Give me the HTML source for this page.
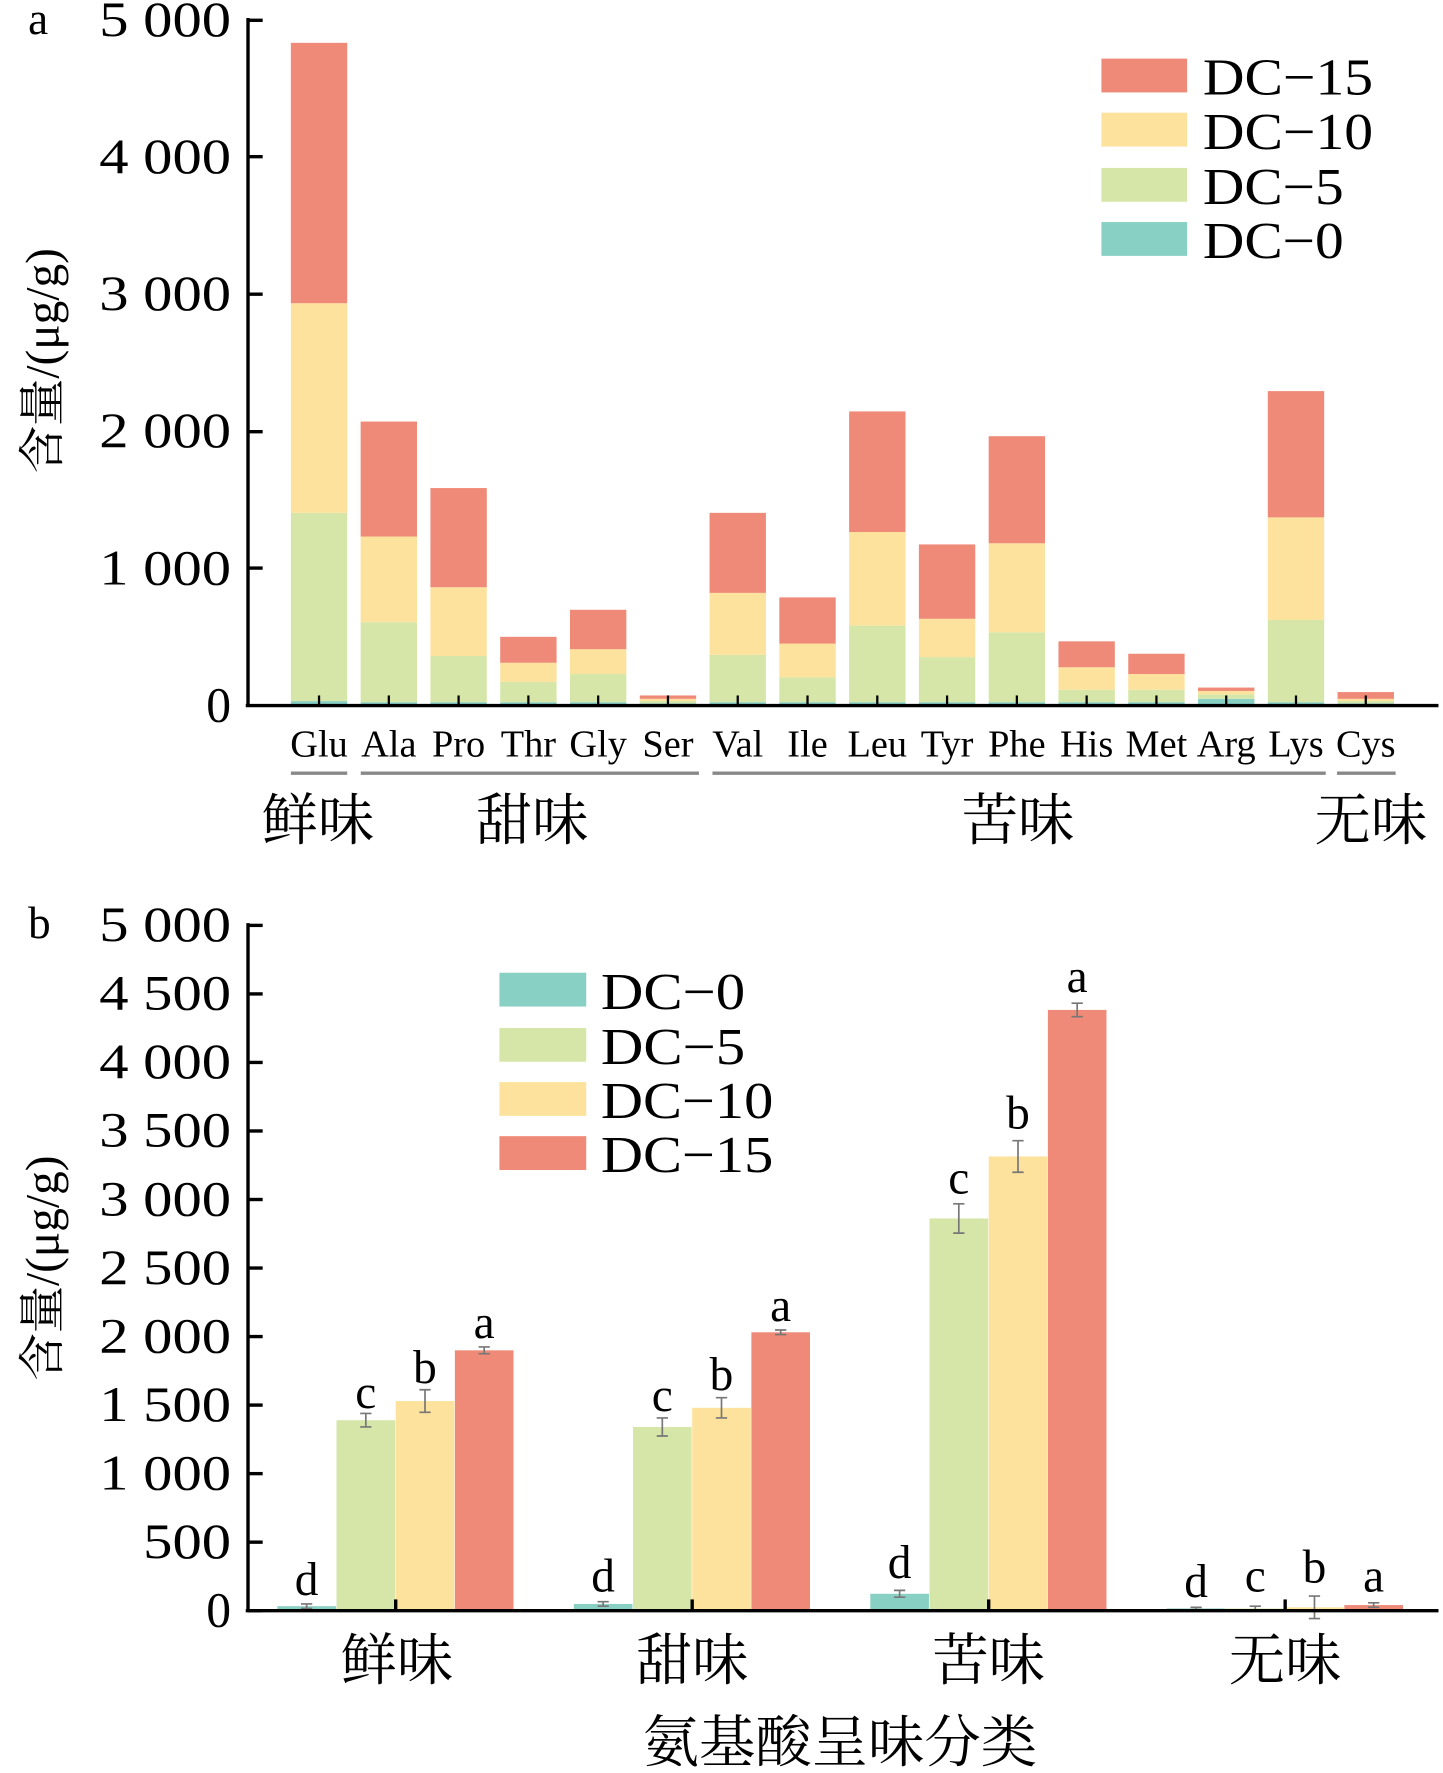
<!DOCTYPE html>
<html><head><meta charset="utf-8"><style>html,body{margin:0;padding:0;background:#fff}svg{display:block}</style></head><body>
<svg width="1443" height="1773" viewBox="0 0 1280 1573" preserveAspectRatio="none" xmlns="http://www.w3.org/2000/svg" font-family="'Liberation Serif','Noto Serif CJK SC',serif">
<rect width="1280" height="1573" fill="#fff"/>
<!-- chart a -->
<text x="25" y="30" font-size="40">a</text>
<g font-size="44" text-anchor="end" id="yt-a"></g>
<text transform="translate(52,320) rotate(-90)" font-size="42" text-anchor="middle">含量/(μg/g)</text>
<g id="bars-a"></g>
<g stroke="#000" stroke-width="3"><line x1="220" y1="16" x2="220" y2="627"/><line x1="218" y1="626" x2="1276" y2="626"/>
<line x1="220" y1="18" x2="233" y2="18"/><line x1="220" y1="139" x2="233" y2="139"/><line x1="220" y1="261" x2="233" y2="261"/><line x1="220" y1="383" x2="233" y2="383"/><line x1="220" y1="504" x2="233" y2="504"/></g>
<g fill="#000" font-size="34" text-anchor="middle" id="lab-a"></g>
<g stroke="#888" stroke-width="3"><line x1="258" y1="686" x2="308" y2="686"/><line x1="320" y1="686" x2="620" y2="686"/><line x1="632" y1="686" x2="1176" y2="686"/><line x1="1186" y1="686" x2="1238" y2="686"/></g>
<g font-size="50" text-anchor="middle"><text x="282" y="745">鲜味</text><text x="472" y="745">甜味</text><text x="903" y="745">苦味</text><text x="1216" y="745">无味</text></g>
<rect x="977" y="52" width="76" height="30" fill="#ef8a78"/><rect x="977" y="100" width="76" height="30" fill="#fce29c"/><rect x="977" y="149" width="76" height="30" fill="#d6e6a8"/><rect x="977" y="197" width="76" height="30" fill="#88d0c4"/>
<g font-size="46"><text x="1067" y="84" textLength="151" lengthAdjust="spacingAndGlyphs">DC−15</text><text x="1067" y="132" textLength="151" lengthAdjust="spacingAndGlyphs">DC−10</text><text x="1067" y="181" textLength="125" lengthAdjust="spacingAndGlyphs">DC−5</text><text x="1067" y="229" textLength="125" lengthAdjust="spacingAndGlyphs">DC−0</text></g>

<!-- chart b -->
<text x="25" y="832" font-size="40">b</text>
<g font-size="44" text-anchor="end" id="yt-b"></g>
<text transform="translate(52,1125) rotate(-90)" font-size="42" text-anchor="middle">含量/(μg/g)</text>
<g id="bars-b"></g>
<g stroke="#000" stroke-width="3"><line x1="220" y1="819" x2="220" y2="1430"/><line x1="218" y1="1429" x2="1276" y2="1429"/></g>
<g stroke="#000" stroke-width="3" id="ticks-b"></g>
<g font-size="50" text-anchor="middle"><text x="352" y="1490">鲜味</text><text x="614" y="1490">甜味</text><text x="877" y="1490">苦味</text><text x="1140" y="1490">无味</text><text x="745" y="1563">氨基酸呈味分类</text></g>
<rect x="443" y="863" width="77" height="30" fill="#88d0c4"/><rect x="443" y="912" width="77" height="30" fill="#d6e6a8"/><rect x="443" y="960" width="77" height="30" fill="#fce29c"/><rect x="443" y="1008" width="77" height="30" fill="#ef8a78"/>
<g font-size="46"><text x="533" y="895" textLength="128" lengthAdjust="spacingAndGlyphs">DC−0</text><text x="533" y="944" textLength="128" lengthAdjust="spacingAndGlyphs">DC−5</text><text x="533" y="992" textLength="153" lengthAdjust="spacingAndGlyphs">DC−10</text><text x="533" y="1040" textLength="153" lengthAdjust="spacingAndGlyphs">DC−15</text></g>
<g font-size="42" text-anchor="middle" id="let-b"></g>
</svg>
<script>
var NS="http://www.w3.org/2000/svg";
function el(p,t,a,txt){var e=document.createElementNS(NS,t);for(var k in a)e.setAttribute(k,a[k]);if(txt)e.textContent=txt;p.appendChild(e);return e;}
function yt(g,labels,y0,step){for(var i=0;i<labels.length;i++){var s=labels[i],a={x:205,y:y0-i*step+14};if(s.length>3){a.textLength=117;a.lengthAdjust="spacingAndGlyphs";}else if(s.length==3){a.textLength=78;a.lengthAdjust="spacingAndGlyphs";}el(g,"text",a,s);}}
yt(document.getElementById("yt-a"),["0","1 000","2 000","3 000","4 000","5 000"],626,121.6);
yt(document.getElementById("yt-b"),["0","500","1 000","1 500","2 000","2 500","3 000","3 500","4 000","4 500","5 000"],1429,60.8);
var C=["#88d0c4","#d6e6a8","#fce29c","#ef8a78"];
var names=["Glu","Ala","Pro","Thr","Gly","Ser","Val","Ile","Leu","Tyr","Phe","His","Met","Arg","Lys","Cys"];
var tops=[[622,455,269,38],[623,552,476,374],[623,582,521,433],[623,605,588,565],[623,598,576,541],[624,622,620,617],[623,581,526,455],[623,601,571,530],[623,555,472,365],[623,583,549,483],[623,561,482,387],[623,612,592,569],[623,612,598,580],[620,616,613,610],[623,550,459,347],[624,622,620,614]];
var ga=document.getElementById("bars-a"),la=document.getElementById("lab-a");
for(var i=0;i<16;i++){var x=258+i*61.9,prev=626;for(var j=0;j<4;j++){var t=tops[i][j];el(ga,"rect",{x:x,y:t,width:50,height:prev-t,fill:C[j]});prev=t;}
el(ga,"line",{x1:x+25,y1:626,x2:x+25,y2:617,stroke:"#000","stroke-width":2});
el(la,"text",{x:x+25,y:671},names[i]);}
var gb=document.getElementById("bars-b"),lb=document.getElementById("let-b"),tb=document.getElementById("ticks-b");
var gx=[246,509,772,1035];
var bt=[[1425,1260,1243,1198],[1423,1266,1249,1182],[1414,1081,1026,896],[1427,1427,1426,1424]];
var er=[[2,6,10,3],[2,8,9,2],[3,13,14,6],[1,2,10,2]];
var lt=[["d","c","b","a"],["d","c","b","a"],["d","c","b","a"],["d","c","b","a"]];
var ly=[[1415,1249,1227,1187],[1412,1252,1233,1172],[1400,1059,1001,880],[1417,1412,1404,1412]];
for(var g=0;g<4;g++)for(var j=0;j<4;j++){var x=gx[g]+j*52.5,t=bt[g][j];
el(gb,"rect",{x:x,y:t,width:52,height:1429-t,fill:C[j]});
var e=er[g][j],cx=x+26;el(gb,"path",{d:"M"+(cx-5)+","+(t-e)+"H"+(cx+5)+"M"+cx+","+(t-e)+"V"+(t+e)+"M"+(cx-5)+","+(t+e)+"H"+(cx+5),stroke:"#777","stroke-width":1.5,fill:"none"});
el(lb,"text",{x:cx,y:ly[g][j]},lt[g][j]);}
for(var v=0;v<=10;v++){var y=1429-v*60.8;el(tb,"line",{x1:220,y1:y,x2:233,y2:y});}
for(var g=0;g<4;g++){el(tb,"line",{x1:gx[g]+105,y1:1429,x2:gx[g]+105,y2:1419});}
</script>
</body></html>
